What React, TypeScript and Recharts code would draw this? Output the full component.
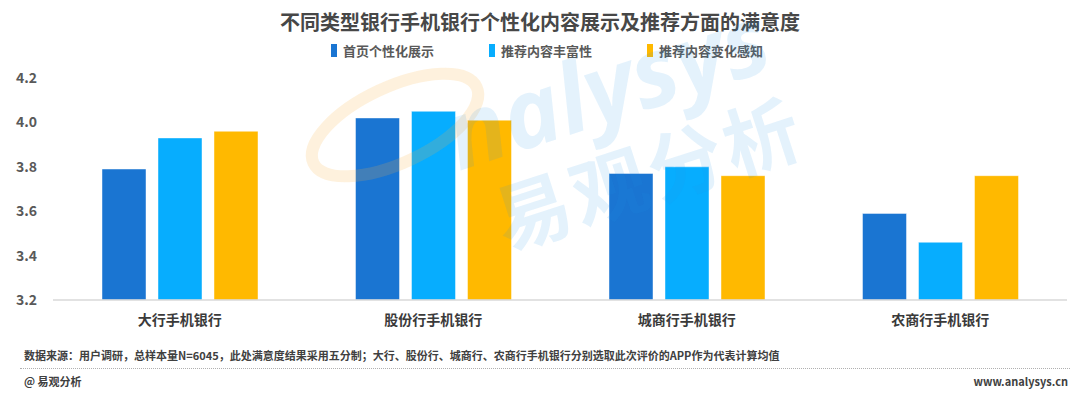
import { BarChart, Bar, XAxis, YAxis, Legend } from "recharts"

const categories = ["大行手机银行", "股份行手机银行", "城商行手机银行", "农商行手机银行"]
const homepage = [3.79, 4.02, 3.77, 3.59]
const richness = [3.93, 4.05, 3.8, 3.46]
const changePerception = [3.96, 4.01, 3.76, 3.76]
const yTicks = [3.2, 3.4, 3.6, 3.8, 4.0, 4.2]

const series = [
  { key: "homepage", name: "首页个性化展示", color: "#1a75d2" },
  { key: "richness", name: "推荐内容丰富性", color: "#07adfe" },
  { key: "change", name: "推荐内容变化感知", color: "#ffb900" },
]

const data = categories.map((name, i) => ({
  name,
  homepage: homepage[i],
  richness: richness[i],
  change: changePerception[i],
}))

const font = '"Noto Sans CJK SC", "Noto Sans", sans-serif'

function LegendContent() {
  return (
    <div style={{ display: "flex", justifyContent: "center", fontFamily: font }}>
      {series.map((s) => (
        <div key={s.key} style={{ display: "flex", alignItems: "center", marginRight: 55 }}>
          <div style={{ width: 6, height: 13, background: s.color, marginRight: 6 }} />
          <span style={{ fontSize: 13, fontWeight: 700, color: "#595959" }}>{s.name}</span>
        </div>
      ))}
    </div>
  )
}

// faint brand watermark drawn over the plot, like the original
function Watermark() {
  return (
    <svg width={1080} height={396} style={{ position: "absolute", left: 0, top: 0, pointerEvents: "none" }}>
      <ellipse cx={395} cy={125} rx={90} ry={38} transform="rotate(-25 395 125)" fill="none" stroke="#fbb040" strokeOpacity={0.18} strokeWidth={12} />
      <g transform="rotate(-18 600 120)" fill="rgb(30,150,230)" fillOpacity={0.12} fontWeight={700}>
        <text x={450} y={125} fontSize={96} fontStyle="italic" fontFamily='"Open Sans", sans-serif'>nalysys</text>
        <text x={470} y={215} fontSize={76} letterSpacing={4} fontFamily={font}>易观分析</text>
      </g>
    </svg>
  )
}

export default function App() {
  return (
    <div style={{ position: "absolute", left: 0, top: 0, width: 1080, height: 396, background: "#fff", overflow: "hidden", fontFamily: font }}>
      <div style={{ position: "absolute", top: 7, width: 1080, textAlign: "center", fontSize: 20, fontWeight: 700, color: "#474747" }}>
        不同类型银行手机银行个性化内容展示及推荐方面的满意度
      </div>

      <BarChart
        width={1080}
        height={396}
        data={data}
        margin={{ top: 78, right: 13, bottom: 66, left: 0 }}
        barSize={44}
        barGap={12}
      >
        <Legend verticalAlign="middle" content={<LegendContent />} wrapperStyle={{ top: 41, left: 41 }} />
        <XAxis
          dataKey="name"
          height={30}
          tickLine={false}
          tickSize={0}
          tickMargin={15}
          axisLine={{ stroke: "#d9d9d9", strokeWidth: 1.5 }}
          tick={{ fontSize: 14, fontWeight: 700, fill: "#3a3a3a", fontFamily: font }}
        />
        <YAxis
          width={53}
          domain={[3.2, 4.2]}
          ticks={yTicks}
          tickFormatter={(v: number) => v.toFixed(1)}
          axisLine={false}
          tickLine={false}
          tickSize={0}
          tickMargin={16}
          tick={{ fontSize: 14, fontWeight: 700, fill: "#595959", fontFamily: font }}
        />
        {series.map((s) => (
          <Bar
            key={s.key}
            dataKey={s.key}
            name={s.name}
            fill={s.color}
            stroke="#ffffff"
            strokeOpacity={0.45}
            strokeWidth={1}
            isAnimationActive={false}
          />
        ))}
      </BarChart>

      <Watermark />

      <div style={{ position: "absolute", left: 24, top: 347, fontSize: 11, fontWeight: 700, color: "#404040" }}>
        数据来源：用户调研，总样本量N=6045，此处满意度结果采用五分制；大行、股份行、城商行、农商行手机银行分别选取此次评价的APP作为代表计算均值
      </div>
      <div style={{ position: "absolute", left: 20, right: 10, top: 368, borderTop: "1px dotted #b0b0b0" }} />
      <div style={{ position: "absolute", left: 24, top: 373, fontSize: 11, fontWeight: 700, color: "#404040" }}>@ 易观分析</div>
      <div style={{ position: "absolute", right: 12, top: 373, fontSize: 11, fontWeight: 700, color: "#404040" }}>www.analysys.cn</div>
    </div>
  )
}
